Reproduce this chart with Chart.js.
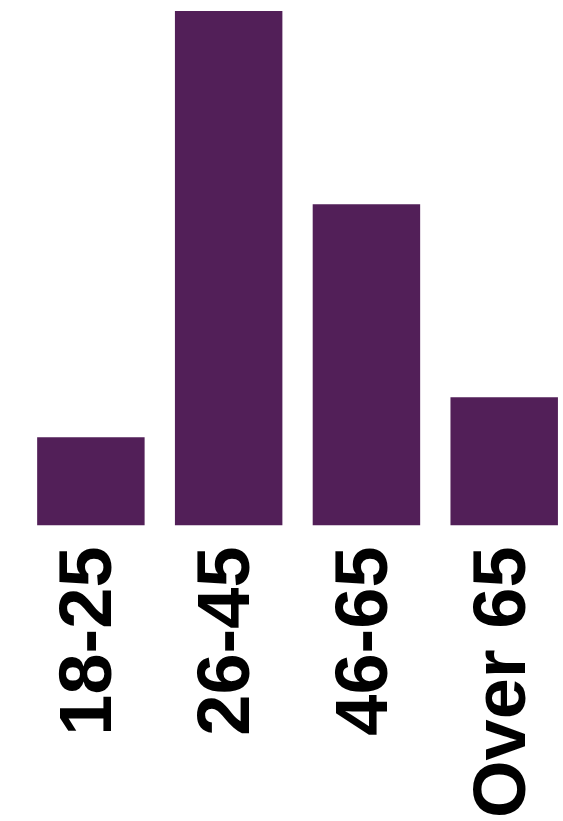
<!DOCTYPE html>
<html>
<head>
<meta charset="utf-8">
<title>Age groups</title>
<script src="https://cdn.jsdelivr.net/npm/chart.js@4"></script>
<style>
  html, body { margin: 0; padding: 0; background: #fff; overflow: hidden; }
  #wrap { width: 614px; height: 839px; }
</style>
</head>
<body>
<div id="wrap"><canvas id="ageChart" width="614" height="839"></canvas></div>
<script>
// age bands and their share (percent)
const ageGroups = ['18-25', '26-45', '46-65', 'Over 65'];
const shares = [8.4, 49, 30.6, 12.2];
const barColor = '#521f58';

document.addEventListener('DOMContentLoaded', () => {
  const ctx = document.getElementById('ageChart');
  new Chart(ctx, {
    type: 'bar',
    data: {
      labels: ageGroups,
      datasets: [{
        data: shares,
        backgroundColor: barColor,
        borderWidth: 0,
        barPercentage: 0.78,
        categoryPercentage: 1
      }]
    },
    options: {
      responsive: false,
      animation: false,
      devicePixelRatio: 1,
      layout: { padding: { top: 11, left: 22, right: 0, bottom: 0 } },
      plugins: { legend: { display: false }, tooltip: { enabled: false } },
      scales: {
        x: {
          grid: { display: false, drawTicks: false },
          border: { display: false },
          ticks: {
            color: '#000',
            padding: 21,
            minRotation: 90,
            maxRotation: 90,
            font: { family: '"Liberation Sans", Arial, sans-serif', weight: 'bold', size: 74 }
          }
        },
        y: {
          display: false,
          min: 0,
          max: 49
        }
      }
    }
  });
});
</script>
</body>
</html>
